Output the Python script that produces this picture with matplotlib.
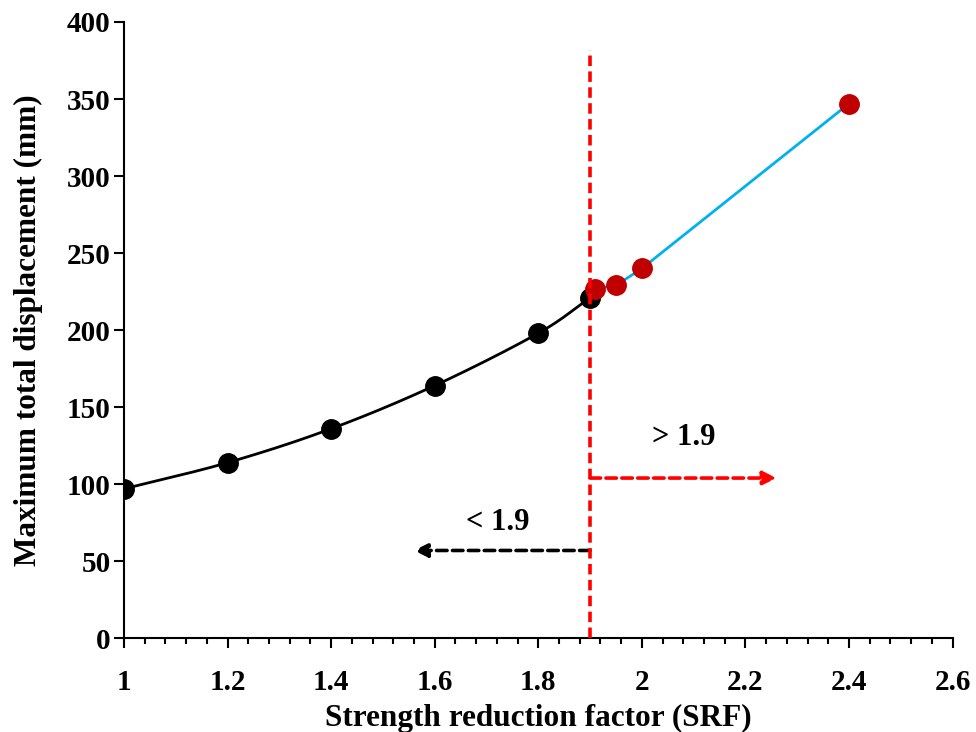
import numpy as np
import matplotlib
matplotlib.use("Agg")
import matplotlib.pyplot as plt
from matplotlib.ticker import MultipleLocator

plt.rcParams['font.family'] = ['Liberation Serif', 'DejaVu Serif']
plt.rcParams['font.weight'] = 'bold'

# Stable stage (SRF <= 1.9)
srf_stable = [1.0, 1.2, 1.4, 1.6, 1.8, 1.9]
disp_stable = [97, 114, 136, 164, 198, 221]

# Failure stage (SRF > 1.9)
srf_fail = [1.91, 1.95, 2.0, 2.4]
disp_fail = [227, 229, 240, 347]

critical_srf = 1.9
x_ticks = [1.0, 1.2, 1.4, 1.6, 1.8, 2.0, 2.2, 2.4, 2.6]
x_tick_labels = ['1', '1.2', '1.4', '1.6', '1.8', '2', '2.2', '2.4', '2.6']


def catmull_rom(x, y, n=30):
    x = np.asarray(x, float)
    y = np.asarray(y, float)
    px = np.concatenate([[2 * x[0] - x[1]], x, [2 * x[-1] - x[-2]]])
    py = np.concatenate([[2 * y[0] - y[1]], y, [2 * y[-1] - y[-2]]])
    xs, ys = [], []
    for i in range(1, len(px) - 2):
        t = np.linspace(0, 1, n, endpoint=False)
        for arr, out in ((px, xs), (py, ys)):
            p0, p1, p2, p3 = arr[i - 1], arr[i], arr[i + 1], arr[i + 2]
            out.append(0.5 * ((2 * p1) + (-p0 + p2) * t
                              + (2 * p0 - 5 * p1 + 4 * p2 - p3) * t ** 2
                              + (-p0 + 3 * p1 - 3 * p2 + p3) * t ** 3))
    xs.append([x[-1]])
    ys.append([y[-1]])
    return np.concatenate(xs), np.concatenate(ys)


fig = plt.figure(figsize=(9.76, 7.32), dpi=100)
ax = fig.add_axes([0.127, 0.128, 0.849, 0.842])

sx, sy = catmull_rom(srf_stable, disp_stable)
ax.plot(sx, sy, color='black', lw=2, zorder=2)
ax.plot(srf_stable, disp_stable, 'o', color='black', ms=14, zorder=3)

ax.plot(srf_fail, disp_fail, color='#00B0F0', lw=2, zorder=2)
ax.plot(srf_fail, disp_fail, 'o', color='#C00000', ms=14, zorder=4)

# Critical SRF marker and direction arrows
dash = (0, (2.9, 1.5))
ax.plot([critical_srf, critical_srf], [0, 382], color='red', lw=2.6,
        ls=dash, zorder=5, clip_on=False)
ax.annotate('', xy=(2.26, 104), xytext=(critical_srf, 104),
            arrowprops=dict(arrowstyle='-|>', color='red', lw=2.6,
                            ls=dash, mutation_scale=20,
                            shrinkA=0, shrinkB=0))
ax.annotate('', xy=(1.56, 57), xytext=(critical_srf, 57),
            arrowprops=dict(arrowstyle='-|>', color='black', lw=2.6,
                            ls=dash, mutation_scale=20,
                            shrinkA=0, shrinkB=0))
ax.text(2.08, 130, '> 1.9', ha='center', va='center', fontsize=22,
        fontweight='bold')
ax.text(1.722, 75, '< 1.9', ha='center', va='center', fontsize=22,
        fontweight='bold')

ax.set_xlim(1, 2.6)
ax.set_ylim(0, 400)
ax.set_xticks(x_ticks)
ax.set_xticklabels(x_tick_labels)
ax.xaxis.set_minor_locator(MultipleLocator(0.04))
ax.yaxis.set_major_locator(MultipleLocator(50))

for side in ('top', 'right'):
    ax.spines[side].set_visible(False)
for side in ('left', 'bottom'):
    ax.spines[side].set_linewidth(1.5)

ax.tick_params(axis='both', which='major', direction='out', length=7,
               width=1.5, labelsize=21)
ax.tick_params(axis='x', which='major', pad=15)
ax.tick_params(axis='y', which='major', pad=2.5)
ax.tick_params(axis='x', which='minor', direction='out', length=4, width=1.5)
for lbl in ax.get_xticklabels() + ax.get_yticklabels():
    lbl.set_fontweight('bold')

ax.set_xlabel('Strength reduction factor (SRF)', fontsize=22.5,
              fontweight='bold', labelpad=6)
ax.set_ylabel('Maximum total displacement (mm)', fontsize=22.5,
              fontweight='bold', labelpad=17)

fig.savefig('out.png', dpi=100)
